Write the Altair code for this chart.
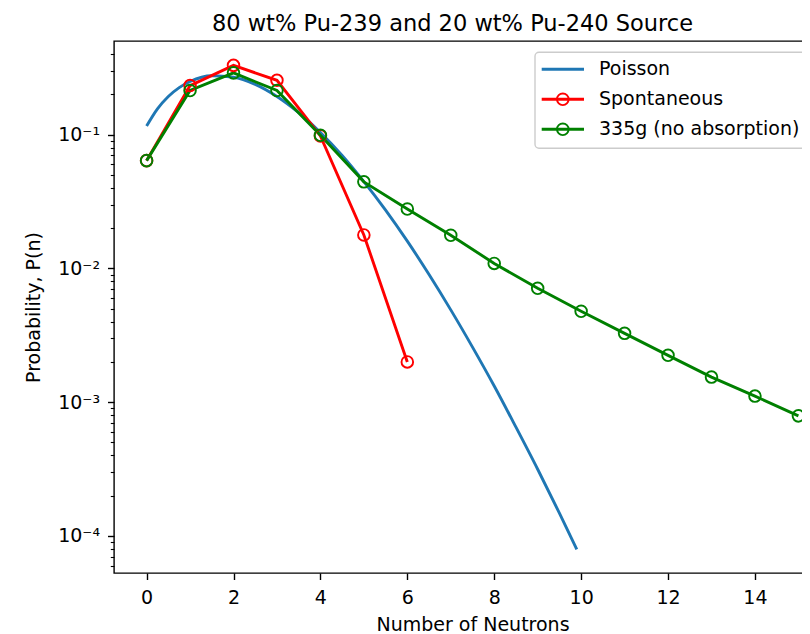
import altair as alt
import pandas as pd

# ---------------- data ----------------
poisson_n = [0, 0.25, 0.5, 0.75, 1, 1.5, 2, 2.5, 3, 3.5, 4, 4.5, 5, 5.5, 6,
             6.5, 7, 7.5, 8, 8.5, 9, 9.5, 9.9]
poisson_p = [0.116, 0.156, 0.193, 0.225, 0.250, 0.276, 0.269, 0.238, 0.193,
             0.146, 0.104, 0.070, 0.0446, 0.0273, 0.0160, 0.0090, 0.0049,
             0.00258, 0.00132, 0.00065, 0.000315, 0.000148, 0.0000794]

spont_n = [0, 1, 2, 3, 4, 5, 6]
spont_p = [0.064, 0.233, 0.330, 0.255, 0.098, 0.0178, 0.0020]

g335_n = [0, 1, 2, 3, 4, 5, 6, 7, 8, 9, 10, 11, 12, 13, 14, 15]
g335_p = [0.064, 0.214, 0.290, 0.214, 0.099, 0.0444, 0.0278, 0.0177, 0.0109,
          0.0071, 0.00478, 0.00327, 0.00224, 0.00154, 0.00111, 0.00079]

series_names = ["Poisson", "Spontaneous", "335g (no absorption)"]
series_colors = ["#1f77b4", "#ff0000", "#008000"]
series_markers = [False, True, True]

title_text = "80 wt% Pu-239 and 20 wt% Pu-240 Source"
x_title = "Number of Neutrons"
y_title = "Probability, P(n)"
x_ticks = [0, 2, 4, 6, 8, 10, 12, 14]
y_major = [1e-4, 1e-3, 1e-2, 1e-1]
y_major_labels = ["10⁻⁴", "10⁻³", "10⁻²", "10⁻¹"]
y_minor = [6e-5, 7e-5, 8e-5, 9e-5,
           2e-4, 3e-4, 4e-4, 5e-4, 6e-4, 7e-4, 8e-4, 9e-4,
           2e-3, 3e-3, 4e-3, 5e-3, 6e-3, 7e-3, 8e-3, 9e-3,
           2e-2, 3e-2, 4e-2, 5e-2, 6e-2, 7e-2, 8e-2, 9e-2,
           0.2, 0.3, 0.4]

FONT = "DejaVu Sans"
FS = 19
W, H = 717, 532

df_p = pd.DataFrame({"n": poisson_n, "p": poisson_p})
df_s = pd.DataFrame({"n": spont_n, "p": spont_p})
df_g = pd.DataFrame({"n": g335_n, "p": g335_p})

major_test = " || ".join(f"datum.value == {v}" for v in y_major)
label_expr = " : ".join(f"datum.value == {v} ? '{l}'" for v, l in zip(y_major, y_major_labels)) + " : ''"

x_enc = alt.X("n:Q", scale=alt.Scale(domain=[-0.75, 15.75], nice=False, zero=False),
              axis=alt.Axis(values=x_ticks, title=x_title, grid=False, domain=False,
                            tickSize=6.5, tickWidth=1.4, tickColor="black",
                            labelFont=FONT, labelFontSize=FS, labelColor="black",
                            labelPadding=9, labelFlush=False,
                            titleFont=FONT, titleFontSize=FS, titleFontWeight="normal",
                            titleColor="black", titlePadding=8))
y_enc = alt.Y("p:Q", scale=alt.Scale(type="log", domain=[5.28e-5, 0.502], nice=False),
              axis=alt.Axis(values=sorted(y_major + y_minor), labelExpr=label_expr,
                            title=y_title, grid=False, domain=False,
                            tickSize={"condition": {"test": major_test, "value": 6.5}, "value": 3.7},
                            tickWidth={"condition": {"test": major_test, "value": 1.4}, "value": 1.1},
                            tickColor="black",
                            labelFont=FONT, labelFontSize=FS, labelColor="black",
                            labelPadding=8, labelFlush=False, labelOverlap=False,
                            titleFont=FONT, titleFontSize=FS, titleFontWeight="normal",
                            titleColor="black", titlePadding=14))

poisson_line = alt.Chart(df_p).mark_line(color=series_colors[0], strokeWidth=2.9,
                                         interpolate="monotone").encode(x=x_enc, y=y_enc)
spont_line = alt.Chart(df_s).mark_line(color=series_colors[1], strokeWidth=2.9).encode(x="n:Q", y="p:Q")
spont_pts = alt.Chart(df_s).mark_point(color=series_colors[1], filled=False, size=135,
                                       strokeWidth=1.9, opacity=1).encode(x="n:Q", y="p:Q")
g_line = alt.Chart(df_g).mark_line(color=series_colors[2], strokeWidth=2.9).encode(x="n:Q", y="p:Q")
g_pts = alt.Chart(df_g).mark_point(color=series_colors[2], filled=False, size=135,
                                   strokeWidth=1.9, opacity=1).encode(x="n:Q", y="p:Q")

# ---------------- legend (drawn like matplotlib's boxed legend) ----------------
one = pd.DataFrame({"k": [0]})
legend_box = alt.Chart(one).mark_rect(fill="white", fillOpacity=0.8, stroke="#cccccc",
                                      strokeWidth=1.4, cornerRadius=4).encode(
    x=alt.value(421), x2=alt.value(720), y=alt.value(11.3), y2=alt.value(107.3))
legend_layers = [legend_box]
row_y = [28.3, 58.3, 88.3]
for name, col, mk, yy in zip(series_names, series_colors, series_markers, row_y):
    legend_layers.append(alt.Chart(one).mark_rule(color=col, strokeWidth=2.9).encode(
        x=alt.value(427.7), x2=alt.value(470), y=alt.value(yy)))
    if mk:
        legend_layers.append(alt.Chart(one).mark_point(color=col, filled=False, size=135,
                                                       strokeWidth=1.9, opacity=1).encode(
            x=alt.value(448.8), y=alt.value(yy)))
    legend_layers.append(alt.Chart(one).mark_text(text=name, font=FONT, fontSize=FS, color="black",
                                                  align="left", baseline="middle").encode(
        x=alt.value(485), y=alt.value(yy)))

chart = alt.layer(poisson_line, spont_line, g_line, spont_pts, g_pts, *legend_layers).properties(
    width=W, height=H,
    title=alt.TitleParams(title_text, font=FONT, fontSize=22.5, fontWeight="normal", color="black",
                          anchor="middle", baseline="alphabetic", offset=11, dx=-20, dy=23),
    autosize=alt.AutoSizeParams(type="none"),
    padding={"left": 106, "top": 33, "right": -29, "bottom": 61},
).configure(background="white").configure_view(stroke="black", strokeWidth=1.4)

chart.save("out.html", embed_options={"renderer": "svg", "actions": False})
